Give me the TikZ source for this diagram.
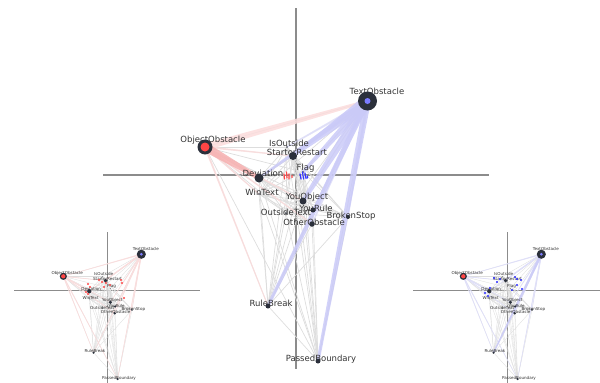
\documentclass[tikz,border=0pt]{standalone}
\usepackage{fontspec}
\setmainfont{DejaVu Sans}
\usetikzlibrary{calc}
\pgfdeclarelayer{edges}
\pgfsetlayers{edges,main}

\definecolor{nodedark}{HTML}{2B303B}
\definecolor{axisgray}{HTML}{8C8C8C}
\definecolor{edgegray}{HTML}{DDDDDD}
\definecolor{redfill}{HTML}{FF4545}
\definecolor{bluefill}{HTML}{7C7CFF}
\definecolor{redband}{HTML}{F6B0B0}
\definecolor{redpale}{HTML}{FBDCDC}
\definecolor{blueband}{HTML}{CACAF8}
\definecolor{bluepale}{HTML}{DFDFFA}

\newcommand\lwf{1}
% name/x/y/diameter/label x/label y/text
\newcommand\netlist{TO/367.5/101/19/377/91/TextObstacle,
  OO/205/147/15/213/140/ObjectObstacle,
  IO/287/147/1.6/289/143/IsOutside,
  SR/293/156/8/297/152/StartorRestart,
  FL/303/172/1.6/305.5/168/Flag,
  DV/259/178/9/263/173/Deviation,
  WT/259/194/1.6/262/192/WinText,
  YO/303/201/7/307/197/YouObject,
  YR/313/210/5/316/208/YouRule,
  OT/286/213/2/286/212/OutsideText,
  OB/312/224/5.5/314/222/OtherObstacle,
  BS/348/217/4/351/216/BrokenStop,
  RB/268/306/5/271/303/RuleBreak,
  PB/318/361/5/321/359/PassedBoundary}
\newcommand\netnames{TO,OO,IO,SR,FL,DV,WT,YO,YR,OT,OB,BS,RB,PB}

\tikzset{
  dot/.style={circle, fill=nodedark, inner sep=0pt},
  lbl/.style={inner sep=0pt, text=black!80, font=\fontsize{8.5}{9}\selectfont},
  gedge/.style={draw=edgegray, line width=\lwf*0.7pt},
  axis/.style={draw=axisgray, line width=1.2pt},
  tick/.style={line width=1.2pt, line cap=round},
}

\newcommand\placenet{%
  \foreach \n/\x/\y/\d/\lx/\ly/\t in \netlist
    {\node[lbl] (\n-l) at (\lx,\ly) {\t};}
  \foreach \n/\x/\y/\d/\lx/\ly/\t in \netlist
    {\node[dot, minimum size=\d] (\n) at (\x,\y) {};}
  \node[circle, fill=bluefill, inner sep=0pt, minimum size=6] (TO-c) at (TO) {};
  \node[circle, fill=redfill, inner sep=0pt, minimum size=9] (OO-c) at (OO) {};
}

\newcommand\netedges{%
  \foreach \a [count=\i] in \netnames {
    \foreach \b [count=\j] in \netnames {
      \ifnum\j>\i \draw[gedge] (\a.center) -- (\b.center);\fi}}}

% tapered band between two nodes
\newcommand\netband[5]{%
  \pgfmathsetmacro\bwa{#3*\lwf}\pgfmathsetmacro\bwb{#4*\lwf}%
  \fill[#5, opacity=0.85] ($(#1.center)!\bwa pt!90:(#2.center)$) -- ($(#2.center)!\bwb pt!-90:(#1.center)$)
    -- ($(#2.center)!\bwb pt!90:(#1.center)$) -- ($(#1.center)!\bwa pt!-90:(#2.center)$) -- cycle;}

\begin{document}
\begin{tikzpicture}[x=1pt, y=-1pt]
\useasboundingbox (0,0) rectangle (600,383);

% main plot
\placenet
\begin{pgfonlayer}{edges}
\draw[axis] (103,175) -- (489,175);
\draw[axis] (296,8) -- (296,369);
\netedges
\netband{OO}{TO}{3.5}{1.5}{redpale}
\foreach \b in {SR,YO,OB,RB,WT} {\netband{OO}{\b}{1}{0.5}{redpale}}
\netband{OO}{DV}{4.5}{2}{redband}
\foreach \b in {IO,YR,OB,BS} {\netband{TO}{\b}{1.5}{0.7}{bluepale}}
\netband{TO}{DV}{3}{1}{blueband}
\netband{TO}{SR}{6}{1.5}{blueband}
\netband{TO}{FL}{4}{1.5}{blueband}
\netband{TO}{YO}{5}{2}{blueband}
\netband{TO}{RB}{3}{1.5}{blueband}
\netband{TO}{PB}{3.5}{1.5}{blueband}
\end{pgfonlayer}
\draw[tick, redfill] (284,174) -- (284.5,179) (286.5,172) -- (287,178) (289,174) -- (289,179) (292,175.5) -- (292,177.5);
\draw[tick, blue!80] (300,174) -- (301,179) (302.5,172) -- (303.5,179) (305,173) -- (306,178.5) (307.5,176) -- (307.5,178);

% left plot
\begin{pgfonlayer}{edges}
\draw[axis, line width=0.8pt] (14,290) -- (200,290);
\draw[axis, line width=0.8pt] (107,232) -- (107,383);
\end{pgfonlayer}
\begin{scope}[shift={(107,290)}, scale=0.48, shift={(-296,-175.5)}, transform shape]
\renewcommand\lwf{0.48}
\placenet
\begin{pgfonlayer}{edges}
\netedges
\foreach \b in {OO,SR,DV,YO,OB,BS,RB,PB} {\netband{TO}{\b}{3}{1}{redpale}}
\foreach \b in {SR,DV,YO,OB,RB,PB} {\netband{OO}{\b}{2.5}{1}{redpale}}
\end{pgfonlayer}
\end{scope}
\foreach \x/\y in {88/284, 90/287, 99/280, 102/282, 106/283, 121/280, 122/283,
  124/298, 104/287, 86/292, 88/294, 110/285}
  {\fill[redfill] (\x,\y) circle (1.1);}

% right plot
\begin{pgfonlayer}{edges}
\draw[axis, line width=0.8pt] (413,290) -- (600,290);
\draw[axis, line width=0.8pt] (507,232) -- (507,383);
\end{pgfonlayer}
\begin{scope}[shift={(507,290)}, scale=0.48, shift={(-296,-175.5)}, transform shape]
\renewcommand\lwf{0.48}
\placenet
\begin{pgfonlayer}{edges}
\netedges
\foreach \b in {OO,SR,DV,YO,OB,BS,PB} {\netband{TO}{\b}{3}{1}{bluepale}}
\foreach \b in {SR,DV,YO,OB,RB,PB} {\netband{OO}{\b}{2.5}{1}{bluepale}}
\netband{TO}{RB}{6}{3}{blueband}
\end{pgfonlayer}
\end{scope}
\foreach \x/\y in {494/278, 497/282, 500/279, 515/277, 517/279, 521/280,
  517/285, 490/288, 485/293, 488/296, 512/290, 522/289}
  {\fill[blue!85] (\x,\y) circle (1.1);}
\end{tikzpicture}
\end{document}
